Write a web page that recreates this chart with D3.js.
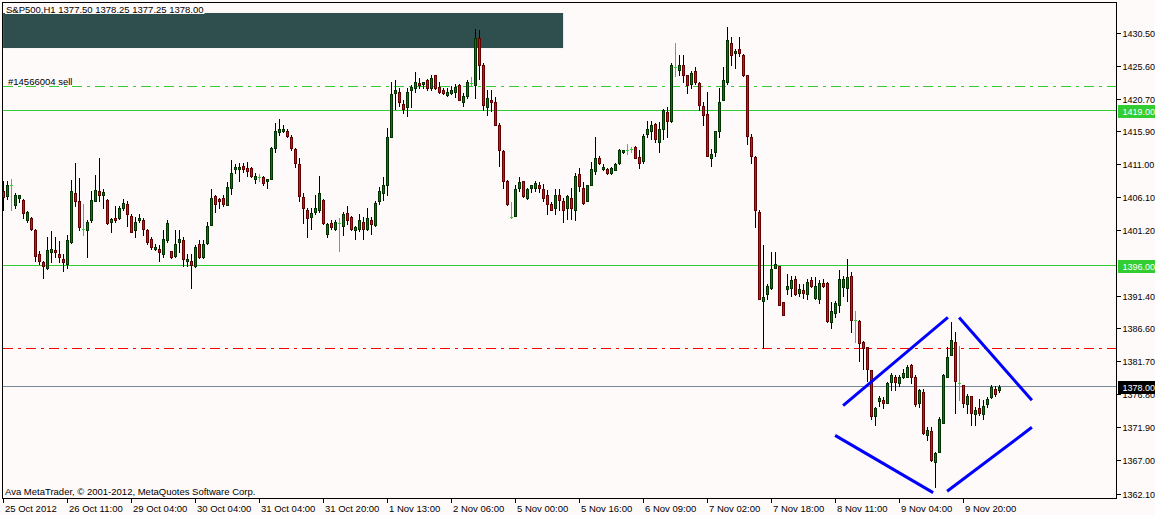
<!DOCTYPE html>
<html><head><meta charset="utf-8">
<script src="https://cdn.jsdelivr.net/npm/d3@7"></script>
<style>
html,body{margin:0;padding:0;background:#fffafa;}
svg{display:block;}
text{font-family:"Liberation Sans",Arial,sans-serif;font-size:9.5px;fill:#000;}
text.ax{font-size:9px;}
</style></head><body>
<svg id="c" width="1155" height="515"></svg>
<script>
// ---- data (S&P500, H1) ----
const opens=[1407.1,1406.3,1407.9,1405.0,1406.0,1405.7,1402.7,1403.1,1401.3,1397.7,
1396.5,1395.7,1398.0,1398.3,1397.7,1397.0,1396.3,1399.5,1406.8,1405.6,
1401.4,1401.2,1402.7,1405.6,1407.1,1406.4,1405.7,1402.4,1403.1,1403.1,
1404.6,1405.1,1403.3,1401.2,1402.8,1402.8,1401.3,1399.9,1398.5,1398.5,
1397.7,1399.8,1398.1,1397.4,1399.5,1399.8,1396.6,1396.7,1395.9,1399.2,
1397.2,1399.4,1402.0,1406.3,1405.8,1406.0,1405.0,1407.5,1410.3,1410.3,
1410.8,1410.5,1410.4,1408.9,1409.2,1409.1,1408.5,1408.9,1413.5,1415.8,
1415.9,1416.0,1415.1,1413.3,1411.1,1406.1,1404.3,1403.2,1403.9,1404.2,
1405.7,1400.7,1402.3,1401.4,1402.3,1401.9,1403.8,1403.2,1401.2,1401.4,
1402.5,1401.4,1402.8,1402.0,1405.5,1406.8,1408.0,1415.0,1421.6,1421.8,
1420.0,1419.5,1422.0,1422.3,1423.1,1423.0,1423.5,1422.4,1424.2,1422.5,
1422.1,1421.3,1421.6,1421.7,1422.8,1420.2,1421.2,1423.1,1422.8,1429.8,
1425.8,1419.5,1420.6,1420.3,1416.9,1413.0,1408.6,1403.2,1403.4,1407.5,
1408.5,1406.0,1407.5,1407.5,1408.0,1407.3,1406.4,1405.1,1404.5,1406.4,
1405.6,1404.5,1406.0,1404.3,1409.6,1407.5,1405.5,1407.9,1410.0,1412.0,
1410.3,1410.3,1409.8,1410.2,1411.2,1412.8,1413.1,1413.3,1413.6,1412.1,
1411.5,1415.5,1415.9,1417.0,1414.4,1416.3,1418.8,1417.5,1425.4,1425.0,
1425.8,1424.2,1423.0,1424.9,1423.1,1419.6,1418.5,1412.0,1412.8,1415.9,
1420.5,1423.2,1429.0,1427.5,1428.1,1427.2,1424.2,1415.1,1412.1,1404.0,
1390.7,1391.8,1392.7,1395.7,1396.0,1390.6,1392.5,1392.7,1394.0,1391.9,
1392.3,1391.8,1393.8,1391.2,1391.1,1393.4,1393.4,1387.6,1388.9,1390.1,
1392.8,1392.7,1394.5,1387.9,1387.8,1384.7,1383.9,1380.5,1373.7,1375.9,
1376.1,1375.6,1378.7,1379.5,1378.5,1379.4,1379.5,1381.3,1379.5,1375.6,
1377.3,1370.9,1371.4,1366.8,1368.3,1372.7,1379.5,1382.7,1384.7,1378.5,
1378.2,1375.5,1376.6,1374.0,1374.8,1374.0,1375.4,1376.5,1377.7,1377.5];
const highs=[1408.6,1408.6,1408.8,1406.7,1406.5,1405.9,1404.1,1403.2,1401.4,1398.2,
1396.7,1400.2,1401.1,1400.2,1399.7,1397.7,1400.5,1408.7,1411.2,1409.0,
1405.1,1402.8,1407.1,1409.5,1411.9,1407.4,1405.9,1403.1,1404.9,1404.9,
1405.9,1405.6,1403.6,1403.2,1403.7,1403.1,1401.4,1400.2,1399.2,1399.0,
1401.2,1402.8,1398.2,1401.3,1401.3,1400.3,1397.7,1397.7,1399.0,1399.8,
1399.8,1402.4,1407.3,1406.5,1406.0,1406.4,1408.4,1411.6,1411.1,1411.2,
1411.2,1411.3,1410.6,1409.7,1409.6,1409.3,1408.8,1413.6,1417.2,1417.8,
1416.9,1416.2,1415.3,1413.5,1412.0,1406.8,1404.6,1404.6,1406.5,1409.3,
1405.9,1402.3,1402.8,1402.7,1403.1,1403.9,1404.8,1403.3,1401.9,1403.6,
1403.2,1404.6,1403.2,1405.6,1407.6,1409.1,1416.4,1423.2,1423.6,1422.4,
1420.5,1422.4,1422.8,1424.7,1423.8,1423.3,1423.7,1424.2,1424.2,1423.2,
1422.4,1422.3,1422.6,1422.9,1422.9,1421.6,1423.5,1423.9,1431.1,1430.9,
1426.0,1422.0,1422.1,1421.0,1417.1,1413.2,1408.7,1405.4,1407.9,1409.1,
1408.6,1407.5,1408.0,1408.6,1408.4,1408.1,1407.2,1405.4,1407.3,1407.3,
1406.0,1406.5,1407.5,1409.8,1410.5,1408.4,1408.0,1411.3,1415.1,1412.2,
1411.1,1410.5,1410.6,1411.2,1413.3,1413.2,1414.0,1413.6,1413.8,1413.1,
1415.5,1417.4,1417.4,1417.1,1417.3,1419.2,1419.5,1426.1,1429.0,1427.2,
1427.2,1424.3,1424.9,1425.4,1423.2,1420.2,1421.8,1413.3,1416.0,1422.4,
1425.4,1431.4,1429.9,1428.1,1429.9,1427.4,1424.3,1415.5,1412.2,1404.2,
1399.0,1393.3,1398.0,1398.0,1396.0,1390.6,1394.7,1394.5,1394.5,1393.3,
1393.3,1394.0,1394.3,1394.3,1393.8,1394.0,1393.5,1390.6,1390.8,1395.3,
1394.5,1397.0,1395.0,1389.3,1387.9,1384.8,1383.9,1380.5,1375.0,1376.7,
1376.5,1378.7,1380.0,1379.7,1379.7,1380.7,1381.3,1381.4,1379.7,1377.7,
1377.7,1372.0,1372.0,1368.3,1373.5,1379.9,1383.9,1387.6,1386.1,1384.0,
1378.2,1377.0,1376.7,1375.0,1376.2,1376.0,1376.5,1378.2,1378.1,1378.25];
const lows=[1404.2,1405.9,1404.2,1404.6,1405.4,1403.1,1402.4,1401.2,1396.6,1396.2,
1394.2,1395.5,1396.5,1397.2,1396.5,1395.2,1395.7,1399.4,1404.9,1401.2,
1400.5,1397.3,1402.5,1405.5,1405.5,1404.6,1402.2,1400.9,1402.4,1402.9,
1404.2,1401.9,1400.9,1400.2,1402.4,1400.6,1399.2,1398.5,1398.3,1396.6,
1397.2,1399.5,1397.1,1397.2,1398.0,1395.9,1395.9,1392.6,1395.75,1397.1,
1397.1,1399.2,1402.0,1403.9,1404.5,1404.9,1405.0,1406.6,1409.8,1408.5,
1409.9,1409.3,1409.2,1408.2,1408.6,1408.0,1407.5,1408.9,1412.9,1415.4,
1415.8,1415.0,1413.1,1410.6,1405.6,1402.3,1400.2,1401.4,1403.6,1403.9,
1402.2,1400.2,1401.4,1401.3,1398.2,1400.6,1402.1,1401.3,1399.9,1401.1,
1400.0,1401.3,1400.7,1401.9,1405.1,1405.7,1406.4,1415.0,1419.2,1419.7,
1418.7,1418.2,1419.5,1421.7,1422.4,1422.4,1422.0,1422.1,1422.2,1421.6,
1421.5,1421.2,1421.4,1421.0,1420.5,1419.7,1420.9,1422.7,1420.8,1423.7,
1419.1,1418.4,1419.0,1416.8,1410.7,1407.5,1405.0,1403.0,1403.3,1407.1,
1406.2,1405.9,1406.9,1407.1,1406.9,1405.5,1403.6,1404.2,1403.7,1404.2,
1402.4,1402.9,1402.9,1402.7,1407.1,1405.2,1405.5,1407.9,1409.6,1411.1,
1410.2,1409.6,1409.6,1410.1,1411.0,1412.7,1412.6,1412.8,1411.9,1410.4,
1411.2,1415.0,1414.7,1414.4,1412.9,1414.8,1415.1,1417.3,1424.1,1424.3,
1423.2,1421.6,1422.3,1422.9,1419.1,1416.9,1412.2,1410.7,1412.2,1415.1,
1420.5,1422.9,1425.7,1425.3,1427.1,1424.1,1414.0,1411.2,1401.7,1391.1,
1383.8,1391.1,1392.5,1395.7,1390.2,1388.7,1391.8,1391.5,1391.7,1391.5,
1391.2,1391.1,1392.8,1391.1,1390.4,1392.8,1387.6,1386.8,1388.3,1389.1,
1391.5,1390.8,1386.1,1384.6,1381.9,1380.7,1378.9,1373.3,1372.3,1375.1,
1374.8,1375.6,1377.5,1377.6,1378.1,1379.3,1379.4,1378.5,1375.2,1375.0,
1371.0,1370.1,1367.0,1363.1,1368.3,1372.7,1379.5,1382.7,1374.1,1376.1,
1375.0,1374.1,1372.3,1372.3,1373.8,1373.3,1375.0,1376.4,1376.7,1377.25];
const closes=[1406.1,1407.9,1407.9,1406.4,1406.4,1403.8,1404.0,1401.4,1397.4,1396.7,
1395.9,1398.3,1398.5,1398.0,1397.2,1396.5,1399.8,1407.1,1405.5,1401.7,
1401.4,1402.5,1405.7,1407.2,1406.4,1406.9,1402.3,1402.9,1402.7,1404.6,
1405.3,1403.6,1400.9,1402.5,1403.1,1401.4,1399.5,1398.7,1398.8,1398.0,
1399.9,1402.3,1397.2,1399.2,1400.0,1397.0,1397.0,1396.1,1398.8,1397.3,
1399.2,1401.8,1406.0,1405.2,1405.5,1405.2,1407.6,1409.8,1410.6,1410.6,
1410.3,1410.0,1409.3,1409.3,1409.2,1408.3,1408.8,1413.4,1416.0,1416.3,
1416.3,1415.2,1413.5,1411.2,1406.3,1404.6,1403.1,1403.8,1404.6,1406.8,
1402.3,1402.1,1401.7,1402.5,1402.3,1403.6,1402.8,1401.4,1401.7,1402.8,
1401.4,1403.1,1402.2,1405.3,1407.1,1408.0,1415.1,1421.4,1422.1,1420.2,
1419.2,1421.8,1422.5,1423.3,1422.8,1423.3,1422.4,1423.8,1422.4,1421.7,
1421.6,1421.8,1422.1,1422.5,1420.6,1421.1,1423.3,1423.1,1429.8,1425.7,
1419.8,1420.8,1420.2,1416.9,1413.1,1408.5,1405.2,1403.2,1407.3,1408.4,
1406.3,1407.3,1407.9,1408.3,1407.5,1406.0,1405.2,1404.3,1406.5,1405.7,
1404.3,1406.3,1404.5,1409.3,1407.8,1405.3,1407.9,1410.3,1412.0,1411.2,
1410.6,1409.7,1410.5,1411.1,1413.1,1413.1,1413.1,1413.3,1412.0,1411.2,
1415.2,1416.3,1416.9,1414.7,1416.3,1419.1,1417.5,1425.7,1425.4,1425.8,
1424.3,1422.8,1424.6,1423.2,1419.8,1418.3,1412.2,1412.6,1415.9,1420.3,
1423.5,1429.4,1427.2,1427.9,1427.5,1424.3,1415.2,1412.2,1404.3,1391.1,
1391.3,1393.0,1395.5,1396.3,1390.2,1388.7,1393.0,1393.8,1391.8,1392.5,
1391.9,1393.5,1392.9,1392.9,1393.4,1392.9,1387.7,1389.3,1390.5,1394.0,
1394.0,1394.3,1387.9,1387.9,1384.5,1383.8,1380.7,1373.7,1374.9,1376.3,
1375.6,1378.5,1379.7,1378.7,1379.5,1380.0,1381.0,1379.5,1375.5,1377.5,
1371.2,1371.6,1367.1,1368.2,1373.3,1379.7,1382.5,1385.0,1378.8,1378.5,
1375.6,1376.7,1374.1,1374.5,1374.1,1375.1,1376.2,1378.0,1377.0,1378.0];

const timeLabels=["25 Oct 2012","26 Oct 11:00","29 Oct 04:00","30 Oct 04:00","31 Oct 04:00","31 Oct 20:00",
"1 Nov 13:00","2 Nov 06:00","5 Nov 00:00","5 Nov 16:00","6 Nov 09:00","7 Nov 02:00","7 Nov 18:00",
"8 Nov 11:00","9 Nov 04:00","9 Nov 20:00"];
const labelEvery=16;
const priceTicks=[1430.5,1425.6,1420.7,1415.9,1411.0,1406.1,1401.2,1391.4,1386.6,1381.7,1376.8,1371.9,1367.0,1362.1];
const priceMin=1362.1, priceMax=1430.5;
const supportLevels=[1419.00,1396.00];
const orderPrice=1422.55, orderLabel="#14566004 sell";
const stopPrice=1383.75;
const bidPrice=1378.00;
const titleText="S&P500,H1  1377.50 1378.25 1377.25 1378.00";
const copyright="Ava MetaTrader, \u00A9 2001-2012, MetaQuotes Software Corp.";
// rectangle object: bar index range and price range
const boxBars=[-0.1,139.9], boxPrices=[1428.27,1433.47];
// diamond trend lines: [bar1, price1, bar2, price2]
const diamondA=[209.9,1375.2,236.1,1388.3];
const diamondB=[238.9,1388.3,257.1,1376.0];
const diamondC=[207.9,1370.8,232.4,1362.3];
const diamondD=[235.9,1362.5,257.1,1372.0];

// ---- layout ----
const W=1155,H=515, L=2.5, T=2.5, R=1116.5, B=498.5;
const svg=d3.select("#c");
const x=d3.scaleLinear().domain([0,1]).range([3.5,7.5]);
const y=d3.scaleLinear().domain([priceMin,priceMax]).range([494,33]);
const snap=v=>Math.round(v-0.5)+0.5;
const UP="#008000", DOWN="#ff0000", DOJI="#32cd32";

svg.append("rect").attr("width",W).attr("height",H).attr("fill","#fffafa");
svg.append("defs").append("clipPath").attr("id","plot").append("rect")
  .attr("x",L).attr("y",T).attr("width",R-L).attr("height",B-T);
const plot=svg.append("g").attr("clip-path","url(#plot)");

// rectangle object
plot.append("rect").attr("x",x(boxBars[0])).attr("y",y(boxPrices[1]))
  .attr("width",x(boxBars[1])-x(boxBars[0])).attr("height",y(boxPrices[0])-y(boxPrices[1]))
  .attr("fill","#2f4f4f");

// horizontal lines (behind candles), drawn as 1px rows
const hl=plot.append("g").attr("shape-rendering","crispEdges");
function hline(p,color,dash){
  const row=Math.round(y(p)-0.5);
  if(!dash){
    hl.append("rect").attr("x",L).attr("y",row).attr("width",R-L).attr("height",1).attr("fill",color);
  } else {
    hl.append("line").attr("x1",L).attr("x2",R).attr("y1",row+0.5).attr("y2",row+0.5)
      .attr("stroke",color).attr("stroke-width",1).attr("stroke-dasharray",dash);
  }
}
hline(orderPrice,"#32cd32","10,5,3,5");
supportLevels.forEach(p=>hline(p,"#32cd32"));
hline(stopPrice,"#ff0000","10,5,3,5");
hline(bidPrice,"#778899");

// candles
const bars=d3.range(opens.length).map(i=>({i,o:opens[i],h:highs[i],l:lows[i],c:closes[i]}));
const cg=plot.append("g").attr("shape-rendering","crispEdges");
bars.forEach(d=>{
  const cx=snap(x(d.i)), P=cx-0.5;
  const doji=d.o===d.c;
  const yh=Math.round(y(d.h)), yl=Math.round(y(d.l));
  cg.append("rect").attr("x",P).attr("y",yh).attr("width",1).attr("height",yl-yh+1)
    .attr("fill",doji?DOJI:"#000");
  if(doji){
    const yy=Math.round(y(d.o));
    cg.append("rect").attr("x",P-1).attr("y",yy).attr("width",3).attr("height",1).attr("fill",DOJI);
  } else {
    const top=Math.round(y(Math.max(d.o,d.c))), bot=Math.round(y(Math.min(d.o,d.c)));
    const hgt=bot-top+1;
    cg.append("rect").attr("x",P-1).attr("y",top).attr("width",3).attr("height",hgt)
      .attr("fill",d.c>d.o?UP:DOWN);
    const ol="rgba(0,0,0,0.6)";
    cg.append("rect").attr("x",P-1).attr("y",top).attr("width",1).attr("height",hgt).attr("fill",ol);
    cg.append("rect").attr("x",P+1).attr("y",top).attr("width",1).attr("height",hgt).attr("fill",ol);
    if(hgt>2){
      cg.append("rect").attr("x",P).attr("y",top).attr("width",1).attr("height",1).attr("fill",ol);
      cg.append("rect").attr("x",P).attr("y",bot).attr("width",1).attr("height",1).attr("fill",ol);
    } else {
      cg.append("rect").attr("x",P).attr("y",top).attr("width",1).attr("height",hgt).attr("fill",ol);
    }
  }
});

// diamond
[diamondA,diamondB,diamondC,diamondD].forEach(s=>{
  plot.append("line").attr("x1",x(s[0])).attr("y1",y(s[1])).attr("x2",x(s[2])).attr("y2",y(s[3]))
    .attr("stroke","#0000ff").attr("stroke-width",3);
});

// order label
plot.append("text").attr("x",8).attr("y",Math.round(y(orderPrice))-2.5).text(orderLabel);

// frame
svg.append("rect").attr("x",L).attr("y",T).attr("width",R-L).attr("height",B-T)
  .attr("fill","none").attr("stroke","#000").attr("shape-rendering","crispEdges");

// title with background
const tbg=svg.append("rect").attr("x",5).attr("y",4).attr("height",10).attr("fill","#fffafa");
const tt=svg.append("text").attr("x",6).attr("y",13).text(titleText);
tbg.attr("width",tt.node().getComputedTextLength()+2);

// copyright
svg.append("text").attr("x",5).attr("y",495).text(copyright);

// x axis
const xa=svg.append("g");
timeLabels.forEach((t,k)=>{
  const xx=snap(x(k*labelEvery));
  xa.append("line").attr("x1",xx).attr("x2",xx).attr("y1",B).attr("y2",B+4).attr("stroke","#000").attr("shape-rendering","crispEdges");
  xa.append("text").attr("x",xx+1.5).attr("y",512).text(t);
});

// y axis
const ya=svg.append("g");
priceTicks.forEach(p=>{
  const yy=snap(y(p));
  ya.append("line").attr("x1",R).attr("x2",R+4).attr("y1",yy).attr("y2",yy).attr("stroke","#000").attr("shape-rendering","crispEdges");
  ya.append("text").attr("class","ax").attr("x",R+6).attr("y",yy+3.5).text(p.toFixed(2));
});
function priceBox(p,bg){
  const yy=Math.round(y(p));
  ya.append("rect").attr("x",R+1.5).attr("y",yy-6).attr("width",40).attr("height",13).attr("fill",bg);
  ya.append("text").attr("class","ax").attr("x",R+6).attr("y",yy+4).style("fill","#fff").text(p.toFixed(2));
}
supportLevels.forEach(p=>priceBox(p,"#32cd32"));
priceBox(bidPrice,"#000");
</script></body></html>
